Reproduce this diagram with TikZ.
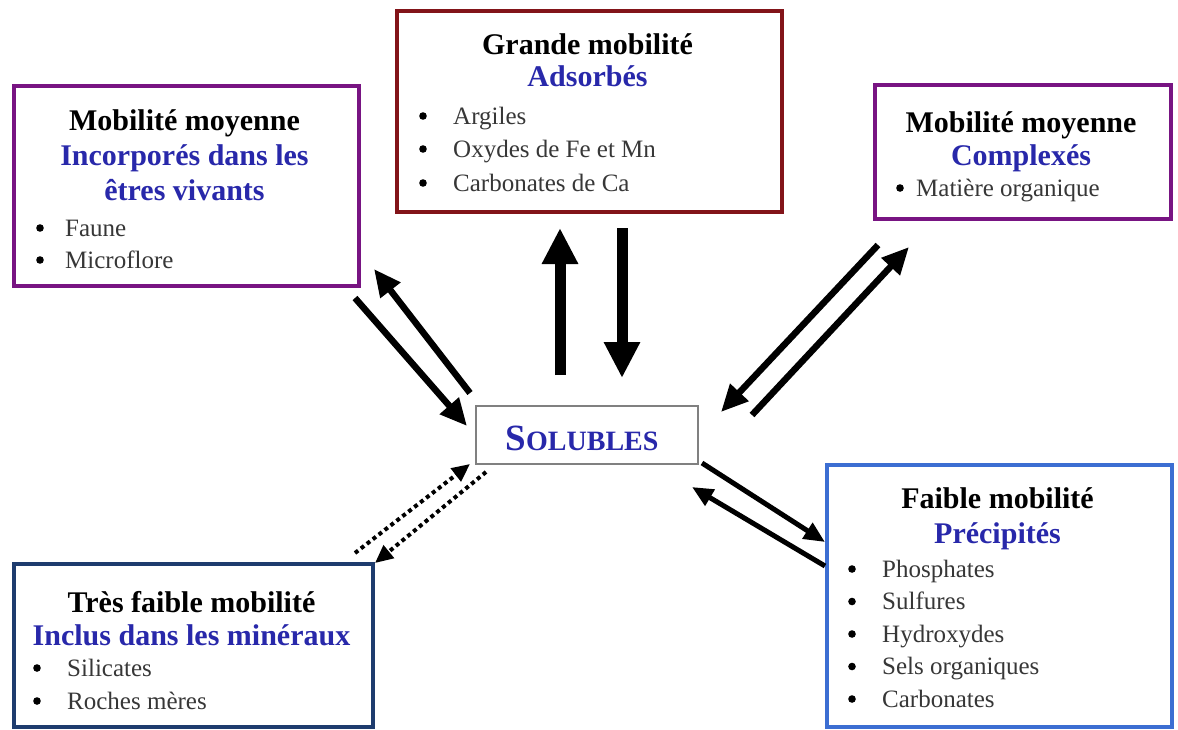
\documentclass[tikz,border=0pt]{standalone}
\usepackage{fontspec}
\setmainfont{Liberation Serif}
\usetikzlibrary{arrows.meta}
\definecolor{purp}{RGB}{120,20,130}
\definecolor{dred}{RGB}{130,20,25}
\definecolor{lblue}{RGB}{60,110,210}
\definecolor{navy}{RGB}{30,60,110}
\definecolor{subblue}{RGB}{40,40,170}
\definecolor{itemgray}{RGB}{55,55,55}
\definecolor{solgray}{RGB}{128,128,128}
\begin{document}
\begin{tikzpicture}[x=1pt,y=-1pt,
  box/.style={draw, line width=4pt, fill=white, anchor=north west, inner sep=0pt},
  ttl/.style={font=\fontsize{30}{34}\selectfont\bfseries, inner sep=0pt, anchor=base},
  sub/.style={ttl, text=subblue},
  item/.style={font=\fontsize{25}{29}\selectfont, text=itemgray, inner sep=0pt, anchor=base west},
  bul/.style={fill=black},
  fat/.style={line width=11pt, -{Triangle[length=36pt,width=34pt]}},
  med/.style={line width=6.5pt, -{Triangle[length=27pt,width=24pt]}},
  slim/.style={line width=5pt, -{Triangle[length=21pt,width=18pt]}},
  dots/.style={line width=4pt, dash pattern=on 4pt off 3.5pt, -{Triangle[length=18pt,width=16pt]}}]
\useasboundingbox (0,0) rectangle (1178,729);
\fill[white] (0,0) rectangle (1178,729);

% boxes
\node[box, draw=purp, minimum width=345pt, minimum height=200pt] (tl) at (12,84) {};
\node[box, draw=dred, minimum width=385pt, minimum height=201pt] (tc) at (395,9) {};
\node[box, draw=purp, minimum width=296pt, minimum height=134pt] (tr) at (873,83) {};
\node[box, draw=lblue, minimum width=345pt, minimum height=262pt] (br) at (825,463) {};
\node[box, draw=navy, minimum width=359pt, minimum height=163pt] (bl) at (12,562) {};
\node[draw=solgray, line width=2pt, minimum width=222pt, minimum height=58pt, anchor=north west, fill=white] (sol) at (475,405) {};
\node[inner sep=0pt, text=subblue, font=\bfseries, anchor=base] (solt) at (582,450) {\fontsize{37}{40}\selectfont S\fontsize{28}{30}\selectfont OLUBLES};

% top-left texts
\node[ttl] (tl1) at (184.5,130) {Mobilité moyenne};
\node[sub] (tl2) at (184.5,165) {Incorporés dans les};
\node[sub] (tl3) at (184.5,200) {êtres vivants};
\fill[bul] (40,228) circle (3.8pt);
\fill[bul] (40,260) circle (3.8pt);
\node[item] (tl4) at (65,236) {Faune};
\node[item] (tl5) at (65,268) {Microflore};

% top-center texts
\node[ttl] (tc1) at (587.5,54) {Grande mobilité};
\node[sub] (tc2) at (587.5,86) {Adsorbés};
\fill[bul] (423,116) circle (3.8pt);
\fill[bul] (423,149) circle (3.8pt);
\fill[bul] (423,183) circle (3.8pt);
\node[item] (tc3) at (453,124) {Argiles};
\node[item] (tc4) at (453,157) {Oxydes de Fe et Mn};
\node[item] (tc5) at (453,191) {Carbonates de Ca};

% top-right texts
\node[ttl] (tr1) at (1021,132) {Mobilité moyenne};
\node[sub] (tr2) at (1021,165) {Complexés};
\fill[bul] (900,188) circle (3.8pt);
\node[item] (tr3) at (916,196) {Matière organique};

% bottom-right texts
\node[ttl] (br1) at (997.5,508) {Faible mobilité};
\node[sub] (br2) at (997.5,543) {Précipités};
\foreach \yy in {569,601.5,634,666.5,699} \fill[bul] (852,\yy) circle (3.8pt);
\node[item] (br3) at (882,577) {Phosphates};
\node[item] (br4) at (882,609.5) {Sulfures};
\node[item] (br5) at (882,642) {Hydroxydes};
\node[item] (br6) at (882,674.5) {Sels organiques};
\node[item] (br7) at (882,707) {Carbonates};

% bottom-left texts
\node[ttl] (bl1) at (191.5,612) {Très faible mobilité};
\node[sub] (bl2) at (191.5,645) {Inclus dans les minéraux};
\fill[bul] (37,668) circle (3.8pt);
\fill[bul] (37,701) circle (3.8pt);
\node[item] (bl3) at (67,676) {Silicates};
\node[item] (bl4) at (67,709) {Roches mères};

% arrow end points
\coordinate (a1s) at (470,393); \coordinate (a1e) at (374,269);
\coordinate (a2s) at (355,298); \coordinate (a2e) at (467,426);
\coordinate (a3s) at (560,375); \coordinate (a3e) at (560,228);
\coordinate (a4s) at (622,228); \coordinate (a4e) at (622,378);
\coordinate (a5s) at (878,245); \coordinate (a5e) at (721,412);
\coordinate (a6s) at (752,415); \coordinate (a6e) at (909,247);
\coordinate (a7s) at (702,463); \coordinate (a7e) at (825,542);
\coordinate (a8s) at (825,566); \coordinate (a8e) at (692,487);
\coordinate (a9s) at (355,553); \coordinate (a9e) at (470,464);
\coordinate (a10s) at (486,472); \coordinate (a10e) at (375,563);

\draw[med] (a1s) -- (a1e);
\draw[med] (a2s) -- (a2e);
\draw[fat] (a3s) -- (a3e);
\draw[fat] (a4s) -- (a4e);
\draw[med] (a5s) -- (a5e);
\draw[med] (a6s) -- (a6e);
\draw[slim] (a7s) -- (a7e);
\draw[slim] (a8s) -- (a8e);
\draw[dots] (a9s) -- (a9e);
\draw[dots] (a10s) -- (a10e);
\end{tikzpicture}
\end{document}
